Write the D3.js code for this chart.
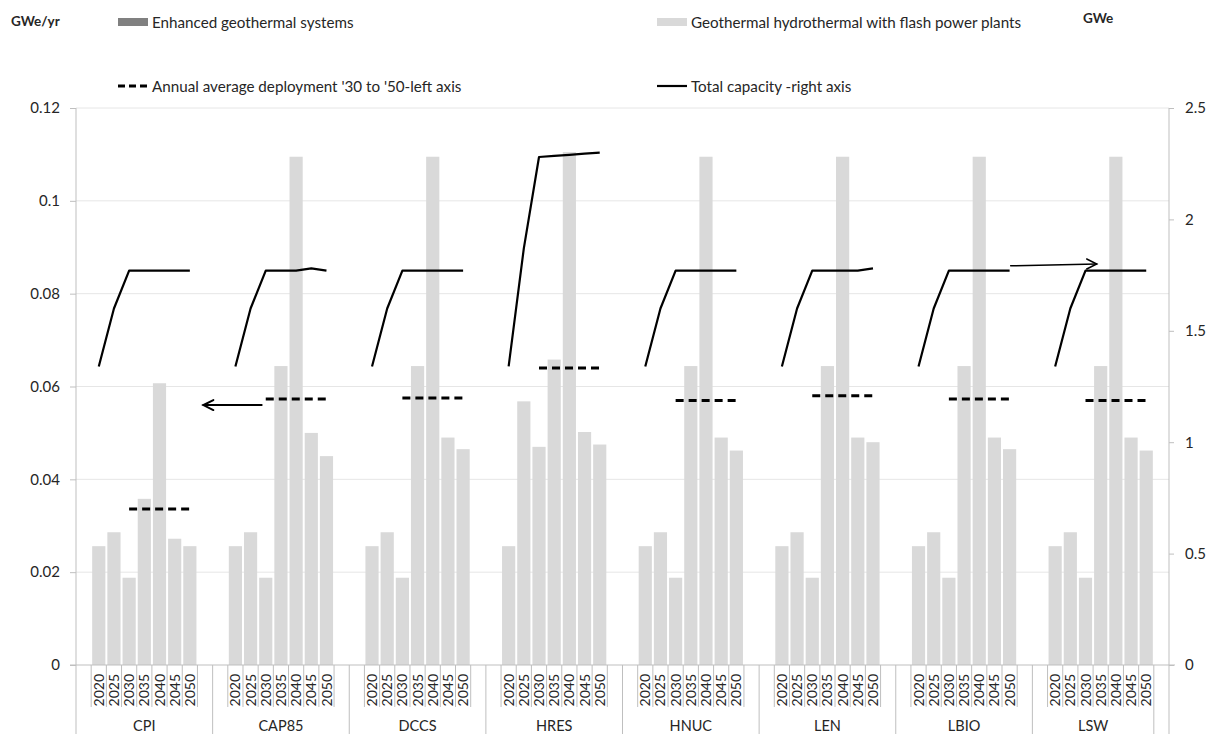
<!DOCTYPE html>
<html><head><meta charset="utf-8">
<script src="https://cdn.jsdelivr.net/npm/d3@7"></script>
<style>
html,body{margin:0;padding:0;background:#fff;}
text{font-family:Lato,"Liberation Sans",sans-serif;fill:#262626;}
</style></head>
<body><svg id="chart" width="1227" height="734"></svg>
<script>
const groups = ["CPI","CAP85","DCCS","HRES","HNUC","LEN","LBIO","LSW"];
const years = ["2020","2025","2030","2035","2040","2045","2050"];
const leftTicks = [0,0.02,0.04,0.06,0.08,0.1,0.12];
const rightTicks = [0,0.5,1,1.5,2,2.5];
// Geothermal hydrothermal with flash power plants (GWe/yr)
const hydroCPI   = [0.0256,0.0286,0.0188,0.0358,0.0607,0.0272,0.0256];
const hydroCAP85 = [0.0256,0.0286,0.0188,0.0644,0.1095,0.0500,0.0450];
const hydroDCCS  = [0.0256,0.0286,0.0188,0.0644,0.1095,0.0490,0.0465];
const hydroHRES  = [0.0256,0.0568,0.0470,0.0658,0.1105,0.0502,0.0475];
const hydroHNUC  = [0.0256,0.0286,0.0188,0.0644,0.1095,0.0490,0.0462];
const hydroLEN   = [0.0256,0.0286,0.0188,0.0644,0.1095,0.0490,0.0480];
const hydroLBIO  = [0.0256,0.0286,0.0188,0.0644,0.1095,0.0490,0.0465];
const hydroLSW   = [0.0256,0.0286,0.0188,0.0644,0.1095,0.0490,0.0462];
// Enhanced geothermal systems (GWe/yr)
const egsAll = [0,0,0,0,0,0,0];
// Annual average deployment '30 to '50 (left axis)
const avgDeploy = [0.0336,0.0573,0.0575,0.0640,0.0570,0.0580,0.0573,0.0570];
// Total capacity (right axis, GWe)
const capCPI   = [1.34,1.60,1.77,1.77,1.77,1.77,1.77];
const capCAP85 = [1.34,1.60,1.77,1.77,1.77,1.78,1.77];
const capDCCS  = [1.34,1.60,1.77,1.77,1.77,1.77,1.77];
const capHRES  = [1.34,1.87,2.28,2.285,2.29,2.295,2.30];
const capHNUC  = [1.34,1.60,1.77,1.77,1.77,1.77,1.77];
const capLEN   = [1.34,1.60,1.77,1.77,1.77,1.77,1.78];
const capLBIO  = [1.34,1.60,1.77,1.77,1.77,1.77,1.77];
const capLSW   = [1.34,1.60,1.77,1.77,1.77,1.77,1.77];

const hydro = [hydroCPI,hydroCAP85,hydroDCCS,hydroHRES,hydroHNUC,hydroLEN,hydroLBIO,hydroLSW];
const cap = [capCPI,capCAP85,capDCCS,capHRES,capHNUC,capLEN,capLBIO,capLSW];
// hand-drawn annotation arrows: [slot from, slot to, left-axis value from, value to]
const arrows = [
  {x0:12.23, x1:8.39, v0:0.0560, v1:0.0560, w:2},
  {x0:61.57, x1:67.24, v0:0.0860, v1:0.0864, w:1.5}
];

const svg = d3.select("#chart");
const L = 76, R = 1169, T = 108, B = 665;
const nSlots = 72;
const xs = d3.scaleLinear().domain([0,nSlots]).range([L,R]);
const yL = d3.scaleLinear().domain([0,0.12]).range([B,T]);
const yR = d3.scaleLinear().domain([0,2.5]).range([B,T]);
// group slot layout
const gStart = groups.map((g,i)=>i*9);
const gSize = groups.map((g,i)=> i<7 ? 9 : 8);
const slotOf = (gi,j)=> gStart[gi]+1+j;

// gridlines
svg.append("g").selectAll("line").data(leftTicks.filter(t=>t>0)).join("line")
  .attr("x1",L).attr("x2",R).attr("y1",d=>yL(d)).attr("y2",d=>yL(d))
  .attr("stroke","#e6e6e6").attr("stroke-width",1);

// bars
const barData = [];
groups.forEach((g,gi)=>years.forEach((y,j)=>{
  barData.push({gi,j,hydro:hydro[gi][j],egs:egsAll[j]});
}));
const bw = xs(1)-xs(0);
svg.append("g").selectAll("rect").data(barData).join("rect")
  .attr("x",d=>xs(slotOf(d.gi,d.j))+1)
  .attr("width",bw-2)
  .attr("y",d=>yL(d.hydro))
  .attr("height",d=>yL(0)-yL(d.hydro))
  .attr("fill","#d9d9d9");
svg.append("g").selectAll("rect").data(barData).join("rect")
  .attr("x",d=>xs(slotOf(d.gi,d.j))+1)
  .attr("width",bw-2)
  .attr("y",d=>yL(d.hydro+d.egs))
  .attr("height",d=>yL(d.hydro)-yL(d.hydro+d.egs))
  .attr("fill","#808080");

// axes lines
svg.append("line").attr("x1",L).attr("x2",L).attr("y1",T).attr("y2",B).attr("stroke","#bfbfbf");
svg.append("line").attr("x1",R).attr("x2",R).attr("y1",T).attr("y2",B).attr("stroke","#bfbfbf");
svg.append("line").attr("x1",L-6).attr("x2",R+6).attr("y1",B).attr("y2",B).attr("stroke","#bfbfbf");

// left axis
const la = svg.append("g").attr("transform",`translate(${L},0)`)
  .call(d3.axisLeft(yL).tickValues(leftTicks).tickFormat(d=>d===0?"0":String(+d.toFixed(2))).tickSize(6).tickPadding(10));
la.select(".domain").remove();
la.selectAll(".tick line").attr("stroke","#bfbfbf");
la.selectAll(".tick text").attr("font-size",15).attr("fill","#262626").style("font-family","Lato");
// right axis
const ra = svg.append("g").attr("transform",`translate(${R},0)`)
  .call(d3.axisRight(yR).tickValues(rightTicks).tickFormat(d=>String(d)).tickSize(5).tickPadding(11));
ra.select(".domain").remove();
ra.selectAll(".tick line").attr("stroke","#bfbfbf");
ra.selectAll(".tick text").attr("font-size",15).attr("fill","#262626").style("font-family","Lato");

// category axis: short ticks within groups, long group separators
const shortTicks = [];
groups.forEach((g,gi)=>{ for(let k=1;k<gSize[gi];k++) shortTicks.push(gStart[gi]+k); });
svg.append("g").selectAll("line").data(shortTicks).join("line")
  .attr("x1",d=>xs(d)).attr("x2",d=>xs(d)).attr("y1",B).attr("y2",707)
  .attr("stroke","#bfbfbf");
const longTicks = [0,...groups.map((g,gi)=>gStart[gi]+gSize[gi]), nSlots];
svg.append("g").selectAll("line").data(longTicks).join("line")
  .attr("x1",d=>xs(d)).attr("x2",d=>xs(d)).attr("y1",B).attr("y2",734)
  .attr("stroke","#bfbfbf");
// year labels
svg.append("g").selectAll("text").data(barData).join("text")
  .attr("transform",d=>`translate(${xs(slotOf(d.gi,d.j)+0.5)},674) rotate(-90)`)
  .attr("text-anchor","end").attr("dy","0.36em").attr("font-size",14)
  .text(d=>years[d.j]);
// group labels
svg.append("g").selectAll("text").data(groups).join("text")
  .attr("x",(g,gi)=>xs(gStart[gi]+gSize[gi]/2)).attr("y",731)
  .attr("text-anchor","middle").attr("font-size",14.5).text(d=>d);

// average deployment dashed lines
svg.append("g").selectAll("line").data(avgDeploy).join("line")
  .attr("x1",(d,gi)=>xs(slotOf(gi,2)+0.5)).attr("x2",(d,gi)=>xs(slotOf(gi,6)+0.5))
  .attr("y1",d=>yL(d)).attr("y2",d=>yL(d))
  .attr("stroke","#000").attr("stroke-width",3).attr("stroke-dasharray","8,5");

// total capacity lines
const line = d3.line().x(d=>xs(d.s+0.5)).y(d=>yR(d.v));
svg.append("g").selectAll("path").data(cap.map((c,gi)=>c.map((v,j)=>({s:slotOf(gi,j),v})))).join("path")
  .attr("d",line).attr("fill","none").attr("stroke","#000").attr("stroke-width",2.2)
  .attr("stroke-linejoin","round");

// arrows
arrows.forEach(a=>{
  const x0=xs(a.x0), x1=xs(a.x1), y0=yL(a.v0), y1=yL(a.v1);
  const g = svg.append("g").attr("stroke","#000").attr("stroke-width",a.w).attr("fill","none").attr("stroke-linecap","round");
  g.append("line").attr("x1",x0).attr("y1",y0).attr("x2",x1).attr("y2",y1);
  const dir = Math.sign(x1-x0);
  g.append("path").attr("d",`M${x1-dir*10},${y1-5}L${x1},${y1}L${x1-dir*10},${y1+5}`);
});

// legend
svg.append("text").attr("x",11).attr("y",26).attr("font-size",13.5).attr("font-weight","bold").text("GWe/yr");
svg.append("text").attr("x",1083).attr("y",23).attr("font-size",13.5).attr("font-weight","bold").text("GWe");
const leg = [
  {x:118,y:22,type:"rect",fill:"#808080",label:"Enhanced geothermal systems"},
  {x:657,y:22,type:"rect",fill:"#d9d9d9",label:"Geothermal hydrothermal with flash power plants"},
  {x:118,y:86,type:"dash",label:"Annual average deployment '30 to '50-left axis"},
  {x:657,y:86,type:"line",label:"Total capacity -right axis"}
];
leg.forEach(l=>{
  if(l.type==="rect") svg.append("rect").attr("x",l.x).attr("y",l.y-4).attr("width",30).attr("height",8).attr("fill",l.fill);
  else svg.append("line").attr("x1",l.x).attr("x2",l.x+30).attr("y1",l.y).attr("y2",l.y)
    .attr("stroke","#000").attr("stroke-width",l.type==="dash"?3:2.2).attr("stroke-dasharray",l.type==="dash"?"7,4":null);
  svg.append("text").attr("x",l.x+34).attr("y",l.y+5.5).attr("font-size",15.2).text(l.label);
});
</script></body></html>
